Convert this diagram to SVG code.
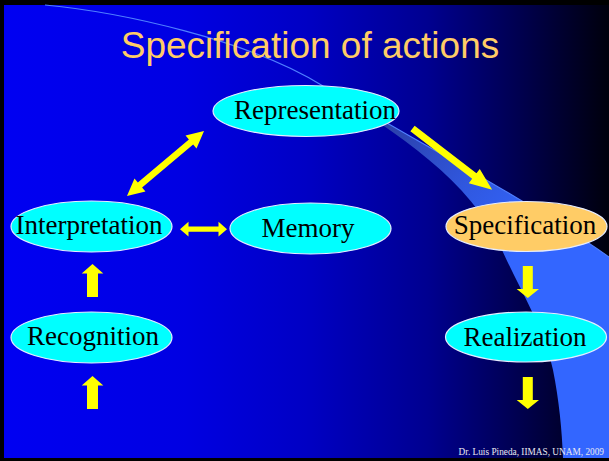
<svg xmlns="http://www.w3.org/2000/svg" width="609" height="461" viewBox="0 0 609 461">
  <defs>
    <linearGradient id="bg" x1="0" y1="0" x2="1" y2="0">
      <stop offset="0" stop-color="#0000f2"/>
      <stop offset="0.3" stop-color="#0000e2"/>
      <stop offset="0.5" stop-color="#0000c4"/>
      <stop offset="0.7" stop-color="#000090"/>
      <stop offset="0.85" stop-color="#000050"/>
      <stop offset="1" stop-color="#00000c"/>
    </linearGradient>
    <linearGradient id="swoosh" gradientUnits="userSpaceOnUse" x1="370" y1="110" x2="520" y2="250">
      <stop offset="0" stop-color="#2a3a9c"/>
      <stop offset="0.6" stop-color="#3058e0"/>
      <stop offset="1" stop-color="#3366ff"/>
    </linearGradient>
  </defs>
  <style>
    .node ellipse { stroke: #e6ecff; stroke-width: 1.2; }
    .cyan { fill: #00ffff; }
    .orange { fill: #ffcc66; stroke: #ffe6b0; }
    .label { font-family: "Liberation Serif", "Times New Roman", serif; font-size: 27px; fill: #000000; text-anchor: middle; }
    .title { font-family: "Liberation Sans", Arial, sans-serif; font-size: 37px; fill: #ffcc66; text-anchor: middle; }
    .footer { font-family: "Liberation Serif", "Times New Roman", serif; font-size: 9.3px; fill: #e8e8f0; text-anchor: end; }
    .arrow { fill: #ffff00; }
  </style>

  <!-- slide frame and background -->
  <rect x="0" y="0" width="609" height="461" fill="#000000"/>
  <rect x="4" y="5" width="605" height="453" fill="url(#bg)"/>

  <!-- decorative swoosh band and thin arc -->
  <path d="M 323,86 C 400,132 520,195 609,257 L 609,458 L 563,458 C 562,430 559,400 553,370 C 545,330 520,290 502,250 C 470,180 400,135 323,86 Z" fill="url(#swoosh)"/>
  <path d="M 45,5 C 120,12 250,40 323,86 C 400,132 520,195 609,257" fill="none" stroke="#4f7fff" stroke-width="1.1"/>

  <text class="title" x="310" y="58">Specification of actions</text>

  <!-- connectors -->
  <g id="connectors">
    <!-- Representation <-> Interpretation -->
    <polygon class="arrow" transform="translate(165.5,163.5) rotate(-40.17)" points="-50.4,0 -33.4,-8.5 -33.4,-3.3 33.4,-3.3 33.4,-8.5 50.4,0 33.4,8.5 33.4,3.3 -33.4,3.3 -33.4,8.5"/>
    <!-- Representation -> Specification -->
    <polygon class="arrow" transform="translate(412.5,128.5) rotate(37.6)" points="0,-3.5 78,-3.5 78,-9 100.5,0 78,9 78,3.5 0,3.5"/>
    <!-- Interpretation <-> Memory -->
    <polygon class="arrow" points="180,229.2 188.5,221.8 188.5,226.6 218.5,226.6 218.5,221.8 227,229.2 218.5,236.6 218.5,231.8 188.5,231.8 188.5,236.6"/>
    <!-- Recognition -> Interpretation -->
    <polygon class="arrow" points="92.5,264 103.3,273.5 98,273.5 98,297 87,297 87,273.5 81.7,273.5"/>
    <!-- input -> Recognition -->
    <polygon class="arrow" points="92.5,376 103.3,385.5 98,385.5 98,409 87,409 87,385.5 81.7,385.5"/>
    <!-- Specification -> Realization -->
    <polygon class="arrow" points="522.8,266 532.8,266 532.8,289 539,289 527.8,298 516.7,289 522.8,289"/>
    <!-- Realization -> output -->
    <polygon class="arrow" points="522.8,377 532.8,377 532.8,400 539,400 527.8,409 516.7,400 522.8,400"/>
  </g>

  <!-- nodes -->
  <g id="representation" class="node">
    <ellipse class="cyan" cx="306" cy="111" rx="93" ry="25.5"/>
    <text class="label" x="315" y="119">Representation</text>
  </g>
  <g id="interpretation" class="node">
    <ellipse class="cyan" cx="91.5" cy="226.5" rx="80.5" ry="25.5"/>
    <text class="label" x="89" y="234">Interpretation</text>
  </g>
  <g id="memory" class="node">
    <ellipse class="cyan" cx="310.5" cy="228.5" rx="80.5" ry="25.5"/>
    <text class="label" x="308" y="237">Memory</text>
  </g>
  <g id="recognition" class="node">
    <ellipse class="cyan" cx="91.5" cy="337.5" rx="80.5" ry="25.5"/>
    <text class="label" x="93" y="345">Recognition</text>
  </g>
  <g id="specification" class="node">
    <ellipse class="orange" cx="526.5" cy="226.5" rx="80.5" ry="25"/>
    <text class="label" x="525" y="234">Specification</text>
  </g>
  <g id="realization" class="node">
    <ellipse class="cyan" cx="526" cy="337" rx="80.5" ry="25"/>
    <text class="label" x="525" y="346">Realization</text>
  </g>

  <text class="footer" x="604" y="455">Dr. Luis Pineda, IIMAS, UNAM, 2009</text>
</svg>
